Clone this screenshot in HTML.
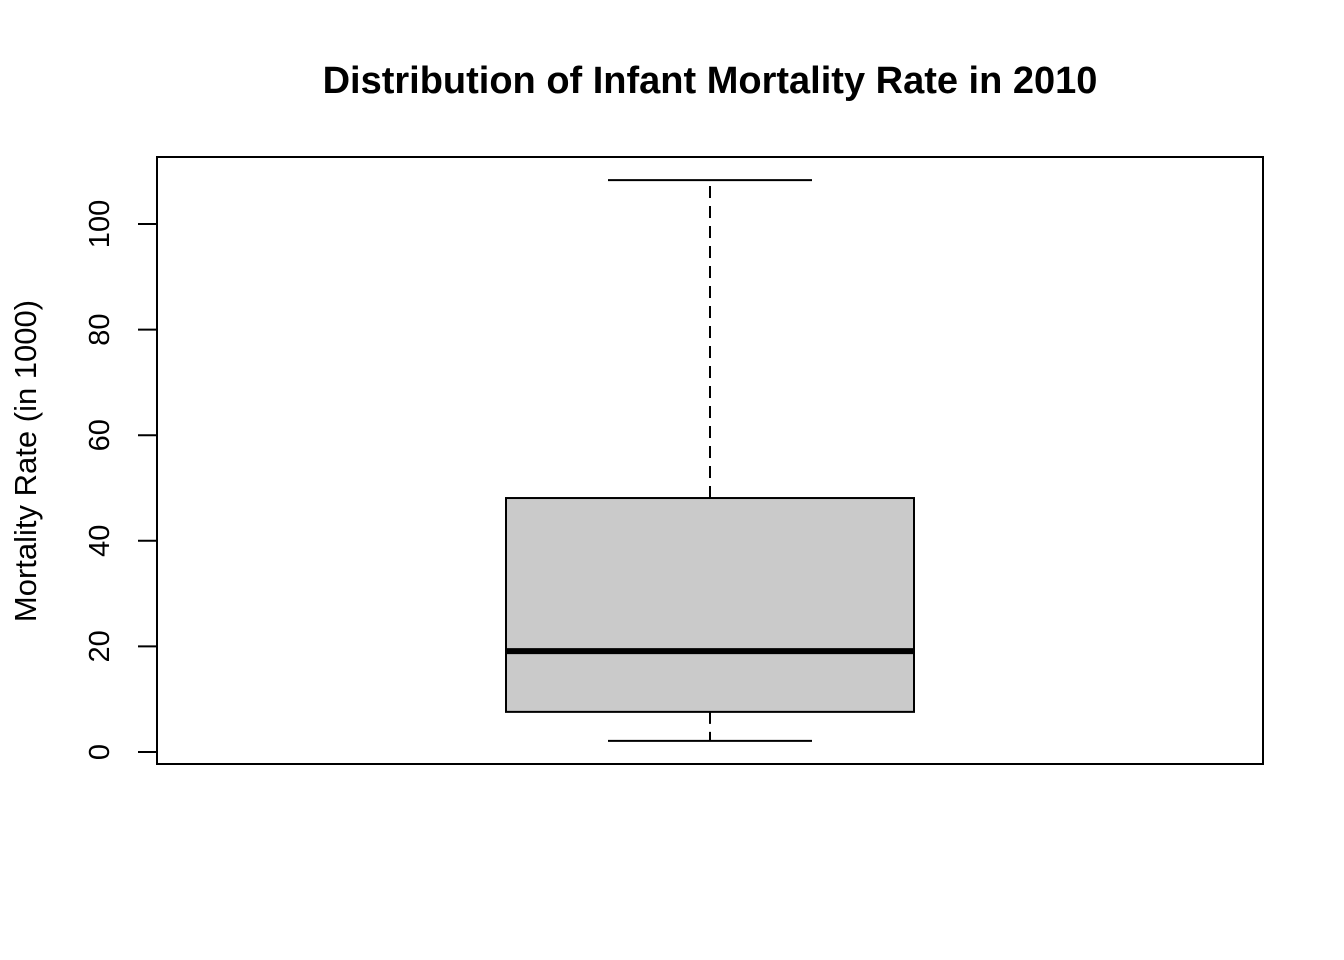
<!DOCTYPE html>
<html><head><meta charset="utf-8"><style>
body{margin:0;background:#fff}
svg{display:block;font-family:"Liberation Sans",Arial,sans-serif}
</style></head><body>
<svg id="c" width="1344" height="960">
<text x="710" y="93" text-anchor="middle" font-size="38" font-weight="bold">Distribution of Infant Mortality Rate in 2010</text>
<rect x="157" y="157" width="1106" height="607" fill="none" stroke="#000" stroke-width="2"/>
<text transform="translate(36,461) rotate(-90)" text-anchor="middle" font-size="31">Mortality Rate (in 1000)</text>
<g id="axis"></g>
<g id="marks"></g>
</svg>
<script>
const ticks=[0,20,40,60,80,100];
const stats=[2.1,7.6,19.1,48.1,108.3]; // min,q1,median,q3,max
const NS="http://www.w3.org/2000/svg";
function y(v){return 752-v*5.28;}
function mk(t,a,p){const e=document.createElementNS(NS,t);for(const k in a)e.setAttribute(k,a[k]);p.appendChild(e);return e;}
const ax=document.getElementById('axis');
ticks.forEach(t=>{
 mk('line',{x1:138,x2:157,y1:y(t),y2:y(t),stroke:'#000','stroke-width':2},ax);
 const tx=mk('text',{transform:`translate(109,${y(t)}) rotate(-90)`,'text-anchor':'middle','font-size':29},ax);
 tx.textContent=t;
 
 
});
const g=document.getElementById('marks');
const cx=710,hw=204,cw=102;
const [mn,q1,md,q3,mx]=stats;
const w1=mk('line',{x1:cx,x2:cx,y1:y(q3),y2:y(mx),stroke:'#000','stroke-width':2,'stroke-dasharray':'12,8'},g);

const w2=mk('line',{x1:cx,x2:cx,y1:y(q1),y2:y(mn),stroke:'#000','stroke-width':2,'stroke-dasharray':'12,8'},g);

const c1=mk('line',{x1:cx-cw,x2:cx+cw,y1:y(mx),y2:y(mx),stroke:'#000','stroke-width':2},g);

const c2=mk('line',{x1:cx-cw,x2:cx+cw,y1:y(mn),y2:y(mn),stroke:'#000','stroke-width':2},g);

const b=mk('rect',{x:cx-hw,y:y(q3),width:hw*2,height:y(q1)-y(q3),fill:'#cacaca',stroke:'#000','stroke-width':2},g);

const m=mk('line',{x1:cx-hw,x2:cx+hw,y1:y(md),y2:y(md),stroke:'#000','stroke-width':6},g);

</script>
</body></html>
